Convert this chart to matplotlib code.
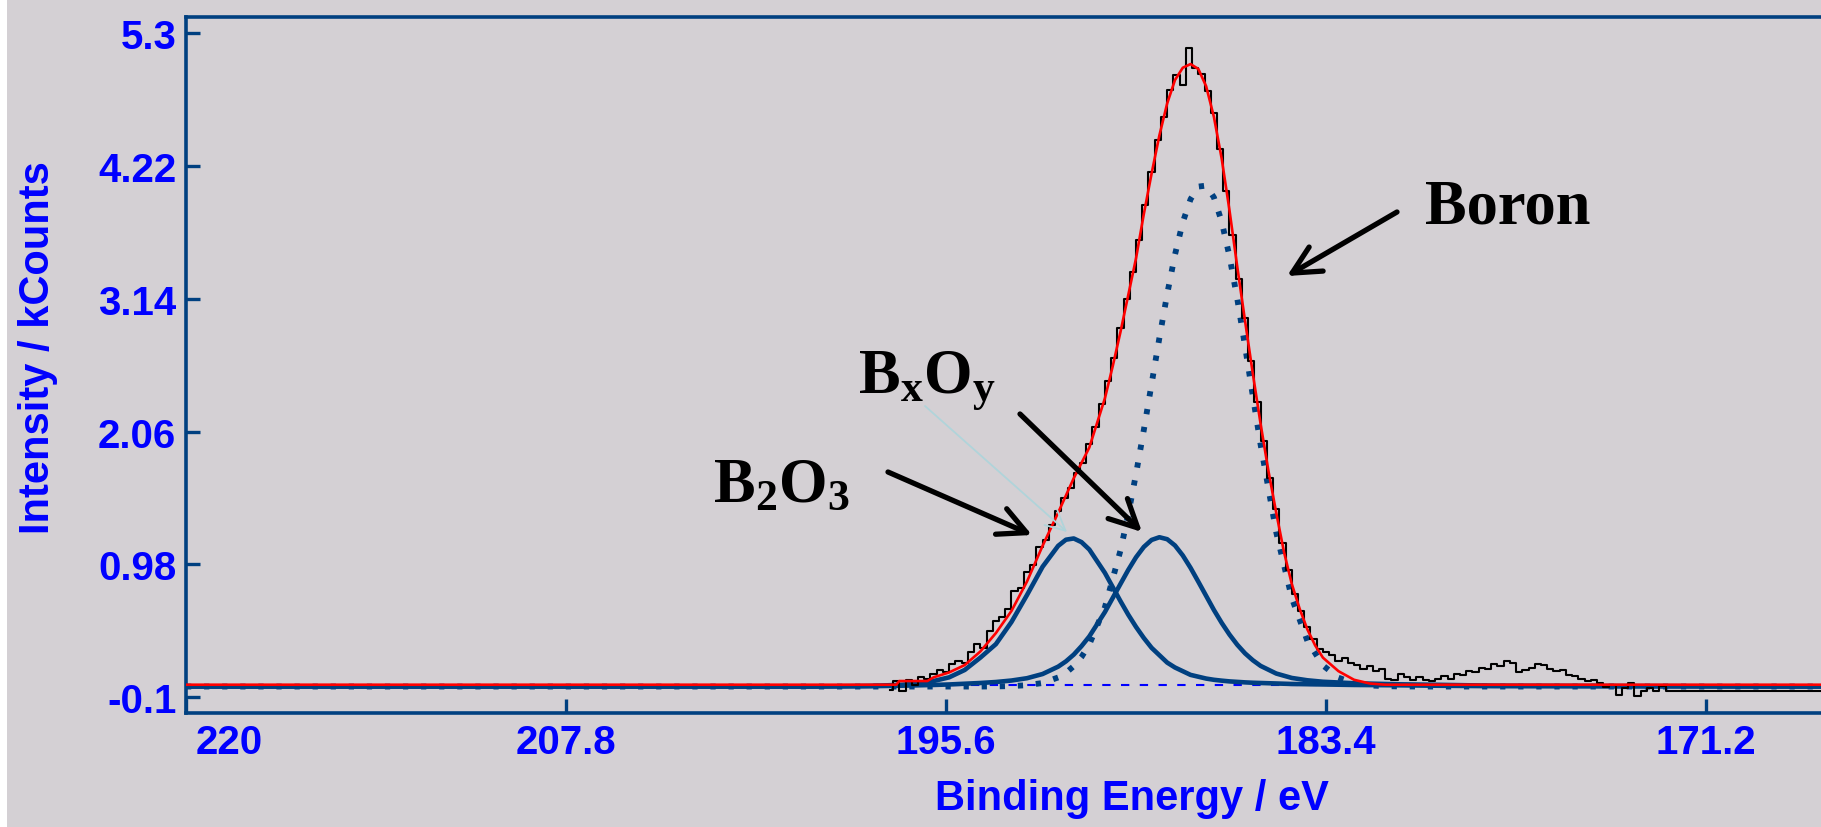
import matplotlib
matplotlib.use("Agg")
import matplotlib.pyplot as plt
from matplotlib.patches import FancyArrowPatch, Rectangle

plt.rcParams['mathtext.fontset'] = 'custom'
plt.rcParams['mathtext.rm'] = 'Liberation Serif:bold'
plt.rcParams['mathtext.it'] = 'Liberation Serif:bold'
plt.rcParams['mathtext.bf'] = 'Liberation Serif:bold'
plt.rcParams['font.family'] = ['Liberation Sans', 'DejaVu Sans']

# ---------------- data (binding energy in eV, intensity in kCounts) ----------------
x_ticks = [220, 207.8, 195.6, 183.4, 171.2]
x_tick_labels = ['220', '207.8', '195.6', '183.4', '171.2']
y_ticks = [-0.1, 0.98, 2.06, 3.14, 4.22, 5.3]
y_tick_labels = ['-0.1', '0.98', '2.06', '3.14', '4.22', '5.3']

# component grid
comp_energy = [220.0, 200.0, 198.0, 197.5, 197.0, 196.5, 196.0, 195.5, 195.0, 194.5,
               194.0, 193.5, 193.0, 192.5, 192.0, 191.75, 191.5, 191.25, 191.0, 190.5,
               190.0, 189.75, 189.5, 189.25, 189.0, 188.75, 188.5, 188.25, 188.0, 187.75,
               187.5, 187.25, 187.0, 186.75, 186.5, 186.25, 186.0, 185.75, 185.5, 185.0,
               184.5, 184.0, 183.5, 183.0, 182.5, 182.0, 181.5, 181.0, 180.0, 178.0,
               167.5]

b2o3 = [-0.015, -0.015, -0.01, -0.005, 0.0, 0.01, 0.03, 0.06, 0.12, 0.22,
        0.33, 0.51, 0.73, 0.96, 1.13, 1.18, 1.19, 1.16, 1.10, 0.91,
        0.68, 0.57, 0.47, 0.38, 0.30, 0.24, 0.18, 0.14, 0.11, 0.08,
        0.065, 0.05, 0.04, 0.033, 0.027, 0.023, 0.019, 0.016, 0.014, 0.01,
        0.006, 0.004, 0.002, 0.0, -0.002, -0.003, -0.004, -0.005, -0.008, -0.012,
        -0.015]

bxoy = [-0.015, -0.015, -0.012, -0.01, -0.008, -0.005, -0.002, 0.002, 0.008, 0.014,
        0.022, 0.034, 0.053, 0.087, 0.147, 0.19, 0.245, 0.314, 0.393, 0.591,
        0.82, 0.934, 1.037, 1.121, 1.178, 1.20, 1.184, 1.133, 1.052, 0.951,
        0.838, 0.723, 0.608, 0.503, 0.408, 0.325, 0.255, 0.199, 0.153, 0.091,
        0.055, 0.036, 0.024, 0.018, 0.012, 0.009, 0.006, 0.003, 0.0, -0.008,
        -0.015]

boron = [-0.015, -0.015, -0.015, -0.015, -0.015, -0.015, -0.015, -0.015, -0.015, -0.015,
         -0.014, -0.011, -0.004, 0.014, 0.059, 0.097, 0.151, 0.226, 0.328, 0.630,
         1.092, 1.385, 1.715, 2.073, 2.448, 2.822, 3.179, 3.499, 3.762, 3.950,
         4.053, 4.061, 3.965, 3.768, 3.486, 3.140, 2.753, 2.349, 1.952, 1.241,
         0.706, 0.357, 0.157, 0.057, 0.012, -0.006, -0.012, -0.014, -0.015, -0.015,
         -0.015]

# total envelope (fit)
fit_energy = [220.0, 197.2, 197.1, 196.2, 196.0, 195.5, 195.0, 194.5, 194.0, 193.5,
              193.0, 192.5, 192.0, 191.5, 191.0, 190.5, 190.25, 190.0, 189.75, 189.5,
              189.25, 189.0, 188.75, 188.5, 188.25, 188.0, 187.75, 187.5, 187.25, 187.0,
              186.75, 186.5, 186.25, 186.0, 185.75, 185.5, 185.25, 185.0, 184.75, 184.5,
              184.25, 184.0, 183.75, 183.5, 183.0, 182.5, 182.0, 181.5, 167.5]
fit_total = [0.0, 0.0, 0.03, 0.03, 0.06, 0.10, 0.16, 0.27, 0.42, 0.60,
             0.84, 1.13, 1.40, 1.68, 1.93, 2.33, 2.59, 2.87, 3.17, 3.47,
             3.83, 4.16, 4.47, 4.73, 4.92, 5.02, 5.05, 5.01, 4.87, 4.62,
             4.28, 3.86, 3.40, 2.96, 2.53, 2.12, 1.74, 1.40, 1.08, 0.82,
             0.62, 0.45, 0.32, 0.22, 0.11, 0.04, 0.01, 0.0, 0.0]

# background line of the fit
bg_energy = [197.2, 181.6]
bg_level = [0.0, 0.0]

# measured spectrum
meas_energy = [197.4, 197.2, 197.0, 196.8, 196.6, 196.4, 196.2, 196.0, 195.8, 195.6,
               195.4, 195.2, 195.0, 194.8, 194.6, 194.4, 194.2, 194.0, 193.8, 193.6,
               193.4, 193.2, 193.0, 192.8, 192.6, 192.4, 192.2, 192.0, 191.8, 191.6,
               191.4, 191.2, 191.0, 190.8, 190.6, 190.4, 190.2, 190.0, 189.8, 189.6,
               189.4, 189.2, 189.0, 188.8, 188.6, 188.4, 188.2, 188.0, 187.8, 187.6,
               187.4, 187.2, 187.0, 186.8, 186.6, 186.4, 186.2, 186.0, 185.8, 185.6,
               185.4, 185.2, 185.0, 184.8, 184.6, 184.4, 184.2, 184.0, 183.8, 183.6,
               183.4, 183.2, 183.0, 182.8, 182.6, 182.4, 182.2, 182.0, 181.8, 181.6,
               181.4, 181.2, 181.0, 180.8, 180.6, 180.4, 180.2, 180.0, 179.8, 179.6,
               179.4, 179.2, 179.0, 178.8, 178.6, 178.4, 178.2, 178.0, 177.8, 177.6,
               177.4, 177.2, 177.0, 176.8, 176.6, 176.4, 176.2, 176.0, 175.8, 175.6,
               175.4, 175.2, 175.0, 174.8, 174.6, 174.4, 174.2, 174.0, 173.8, 173.6,
               173.4, 173.2, 173.0, 172.8, 172.6, 172.4, 172.2, 170.0, 167.5]
meas_counts = [-0.04, 0.03, -0.05, 0.04, 0.00, 0.06, 0.05, 0.09, 0.12, 0.10,
               0.17, 0.19, 0.18, 0.27, 0.33, 0.30, 0.44, 0.52, 0.55, 0.62,
               0.76, 0.79, 0.92, 0.97, 1.12, 1.18, 1.30, 1.41, 1.52, 1.60,
               1.72, 1.80, 1.96, 2.10, 2.28, 2.47, 2.66, 2.90, 3.14, 3.36,
               3.62, 3.90, 4.17, 4.43, 4.62, 4.84, 4.96, 4.88, 5.18, 5.02,
               4.97, 4.83, 4.65, 4.36, 4.02, 3.66, 3.30, 2.98, 2.63, 2.30,
               1.98, 1.68, 1.43, 1.15, 0.93, 0.74, 0.60, 0.47, 0.37, 0.29,
               0.27, 0.24, 0.19, 0.22, 0.18, 0.16, 0.13, 0.15, 0.11, 0.13,
               0.05, 0.04, 0.09, 0.06, 0.04, 0.06, 0.04, 0.03, 0.05, 0.07,
               0.05, 0.09, 0.08, 0.11, 0.10, 0.14, 0.13, 0.17, 0.15, 0.19,
               0.18, 0.10, 0.12, 0.14, 0.17, 0.16, 0.13, 0.11, 0.12, 0.08,
               0.07, 0.05, 0.03, 0.04, 0.01, -0.02, 0.00, -0.08, -0.03, 0.01,
               -0.09, -0.05, -0.03, -0.05, -0.01, -0.05, -0.05, -0.05, -0.05]

# ---------------- style ----------------
BG = '#D4D0D4'
DARK = '#004080'
TXT = '#0000FF'
W, H = 1821, 828

fig = plt.figure(figsize=(W / 100, H / 100), dpi=100, facecolor=BG)
ax = fig.add_axes([186 / W, 1 - 714 / H, 1635 / W, 696 / H])
ax.set_facecolor(BG)

ax.plot(bg_energy, bg_level, color='#0000FF', lw=1.5, linestyle=(0, (4, 5)), zorder=1)
ax.plot(comp_energy, b2o3, color=DARK, lw=3.3, zorder=2, solid_joinstyle='round')
ax.plot(comp_energy, bxoy, color=DARK, lw=3.3, zorder=2, solid_joinstyle='round')
ax.plot(comp_energy, boron, color=DARK, lw=4.2, linestyle=(0, (0.9, 2.2)),
        dash_capstyle='butt', zorder=2)
ax.plot(meas_energy, meas_counts, color='black', lw=1.5, drawstyle='steps-mid', zorder=3)
ax.plot(fit_energy, fit_total, color='#FF0000', lw=1.9, zorder=4)

ax.set_xlim(220, 167.51)
ax.set_ylim(-0.2302, 5.433)

for side in ['top', 'bottom', 'left']:
    ax.spines[side].set_color(DARK)
    ax.spines[side].set_linewidth(2.6)
ax.spines['right'].set_visible(False)

ax.set_xticks(x_ticks)
ax.set_xticklabels([''] + x_tick_labels[1:])
ax.set_yticks(y_ticks)
ax.set_yticklabels(y_tick_labels)
ax.tick_params(axis='both', direction='in', length=10, width=2.4, color=DARK,
               labelcolor=TXT, labelsize=29, pad=7)
ax.tick_params(axis='x', top=False)
ax.tick_params(axis='y', right=False)
for lbl in ax.get_xticklabels() + ax.get_yticklabels():
    lbl.set_fontweight('bold')

# first x label sits just right of the spine
fig.text(229 / W, 1 - (714 + 9.7) / H, x_tick_labels[0], ha='center', va='top',
         color=TXT, fontsize=29, fontweight='bold')

fig.text(1132 / W, 1 - 799 / H, 'Binding Energy / eV', ha='center', va='center',
         color=TXT, fontsize=30, fontweight='bold')
fig.text(38 / W, 1 - 348 / H, 'Intensity / kCounts', ha='center', va='center',
         rotation=90, color=TXT, fontsize=30, fontweight='bold')

# annotations
serif = dict(family='Liberation Serif', fontweight='bold', color='black', fontsize=45)
fig.text(1425 / W, 1 - 223 / H, 'Boron', ha='left', va='baseline', **serif)
fig.text(713 / W, 1 - 502 / H, r'$\mathrm{B_2O_3}$', ha='left', va='baseline', fontsize=45, color='black')
fig.text(858 / W, 1 - 392 / H, r'$\mathrm{B_xO_y}$', ha='left', va='baseline', fontsize=45, color='black')


def arrow(p0, p1, color='black', lw=3.8, hl=1.0, hw=0.5):
    a = FancyArrowPatch((p0[0] / W, 1 - p0[1] / H), (p1[0] / W, 1 - p1[1] / H),
                        transform=fig.transFigure,
                        arrowstyle='->,head_length=%g,head_width=%g' % (hl, hw),
                        mutation_scale=20, lw=lw, color=color, shrinkA=0, shrinkB=0,
                        zorder=6)
    fig.add_artist(a)


arrow((1397, 213), (1287, 277))
arrow((888, 473), (1032, 536))
arrow((1020, 415), (1142, 533))
arrow((925, 407), (1067, 533), color='#B0D4DA', lw=1.3, hl=0.7, hw=0.35)

fig.add_artist(Rectangle((0, 0), 7 / W, 1, transform=fig.transFigure,
                         facecolor='white', edgecolor='none', zorder=0))

fig.savefig('out.png', dpi=100, facecolor=BG)
